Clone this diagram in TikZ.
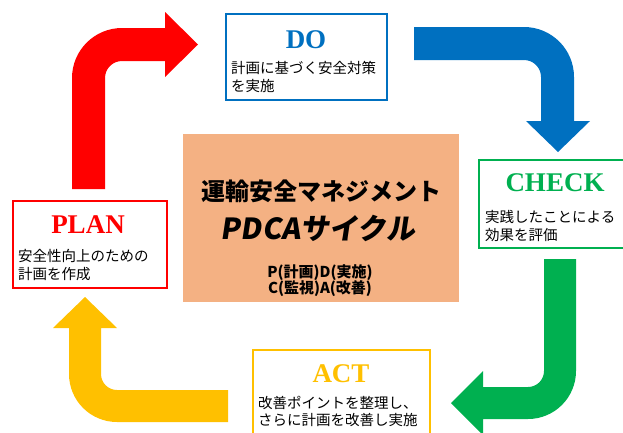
\documentclass[tikz,border=0pt]{standalone}
\usepackage{fontspec}
\setmainfont{Liberation Serif}
\newfontfamily\jp{Noto Sans CJK JP}
\newfontfamily\jpsl{Noto Sans CJK JP}[FakeSlant=0.15]
\definecolor{redc}{HTML}{FF0000}
\definecolor{bluec}{HTML}{0070C0}
\definecolor{greenc}{HTML}{00B050}
\definecolor{yellowc}{HTML}{FFC000}
\definecolor{peach}{HTML}{F4B183}
\tikzset{
  box/.style={draw, line width=2.2pt, fill=white, inner sep=0pt, anchor=north west},
  ttl/.style={inner sep=0pt, font=\bfseries\fontsize{27}{30}\selectfont},
  body/.style={inner sep=0pt, anchor=west, align=left, font=\jp\fontsize{14.5}{17.5}\selectfont},
  ctitle/.style={inner sep=0pt, font=\jp\bfseries\fontsize{24}{28}\selectfont},
  csub/.style={inner sep=0pt, font=\jp\bfseries\fontsize{15}{16}\selectfont},
}
\begin{document}
\begin{tikzpicture}[x=1pt,y=1pt]
\useasboundingbox (0,0) rectangle (623,-432);
\clip (0,0) rectangle (623,-432);
% red arrow PLAN -> DO
\fill[redc] (72,-189) -- (72,-78) arc[start angle=180, end angle=90, radius=50]
  -- (165,-28) -- (165,-12) -- (198,-44.5) -- (165,-77) -- (165,-61) -- (122,-61)
  arc[start angle=90, end angle=180, radius=17] -- (105,-189) -- cycle;
% blue arrow DO -> CHECK
\fill[bluec] (414,-27) -- (524,-27) arc[start angle=90, end angle=0, radius=50]
  -- (574,-121) -- (590,-121) -- (558,-152) -- (526,-121) -- (541,-121) -- (541,-77)
  arc[start angle=0, end angle=90, radius=17] -- (414,-60) -- cycle;
% green arrow CHECK -> ACT
\fill[greenc] (576,-259) -- (576,-371) arc[start angle=0, end angle=-90, radius=48]
  -- (483,-419) -- (483,-435) -- (451,-403) -- (483,-371) -- (483,-387) -- (528,-387)
  arc[start angle=-90, end angle=0, radius=16] -- (544,-259) -- cycle;
% yellow arrow ACT -> PLAN
\fill[yellowc] (228,-422) -- (117,-422) arc[start angle=-90, end angle=-180, radius=48]
  -- (69,-328) -- (53,-328) -- (85,-297) -- (117,-328) -- (101,-328) -- (101,-374)
  arc[start angle=180, end angle=270, radius=16] -- (228,-390) -- cycle;
% boxes
\node[box, draw=redc, minimum width=154, minimum height=87] (plan) at (12,-200) {};
\node[ttl, text=redc] (plantitle) at (88,-225) {PLAN};
\node[body] (plantext) at (18,-265) {安全性向上のための\\計画を作成};

\node[box, draw=bluec, minimum width=161, minimum height=86] (do) at (225,-13) {};
\node[ttl, text=bluec] (dotitle) at (306,-40) {DO};
\node[body] (dotext) at (231,-77) {計画に基づく安全対策\\を実施};

\node[box, draw=greenc, minimum width=160, minimum height=88] (check) at (478,-159) {};
\node[ttl, text=greenc] (checktitle) at (555,-183) {CHECK};
\node[body] (checktext) at (485,-226) {実践したことによる\\効果を評価};

\node[box, draw=yellowc, minimum width=177, minimum height=95] (act) at (252,-349) {};
\node[ttl, text=yellowc] (acttitle) at (341,-374) {ACT};
\node[body] (acttext) at (258,-411.5) {改善ポイントを整理し、\\さらに計画を改善し実施};

% center
\node[fill=peach, inner sep=0pt, minimum width=276, minimum height=168, anchor=north west] (center) at (183,-134) {};
\node[ctitle] (c1) at (321,-191) {運輸安全マネジメント};
\node[inner sep=0pt, font=\jpsl\bfseries\fontsize{29}{32}\selectfont] (c2) at (318,-228) {PDCAサイクル};
\node[csub] (c3) at (320,-273) {P(計画)D(実施)};
\node[csub] (c4) at (320,-289) {C(監視)A(改善)};
\end{tikzpicture}
\end{document}
